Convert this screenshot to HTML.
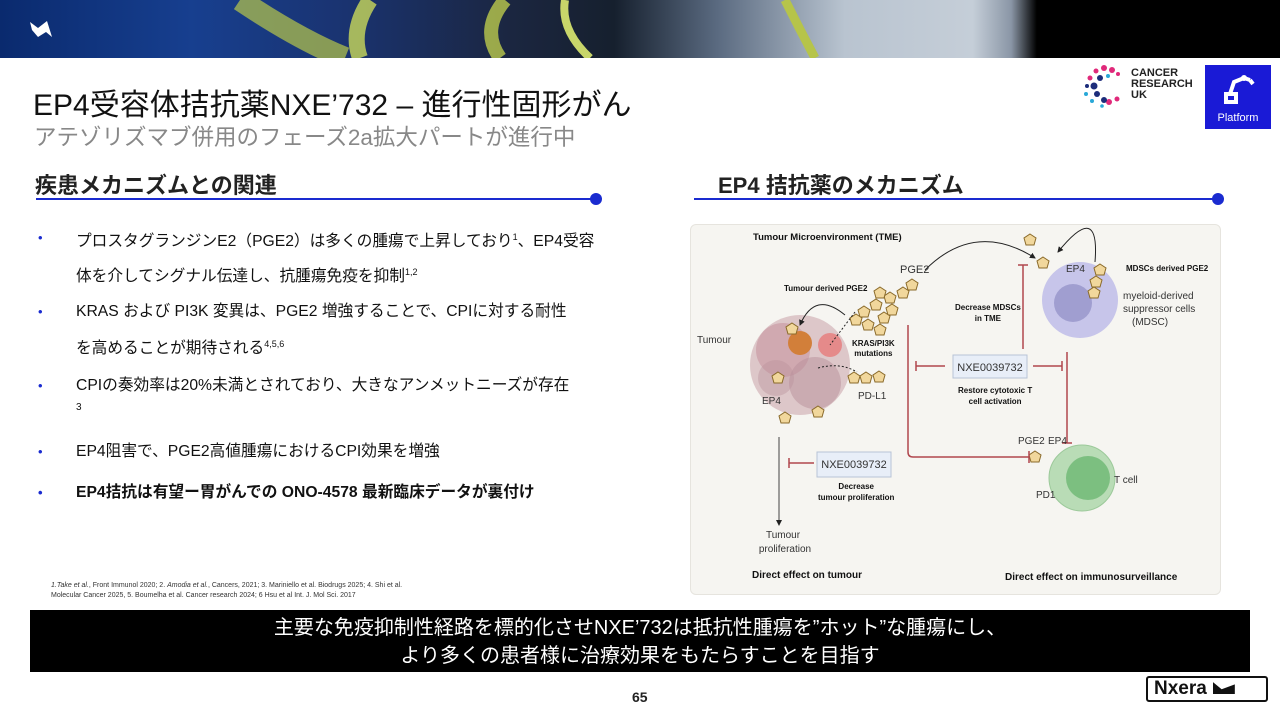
<!DOCTYPE html>
<html><head><meta charset="utf-8"><style>
*{margin:0;padding:0;box-sizing:border-box}
body{width:1280px;height:720px;position:relative;background:#fff;font-family:"Liberation Sans","Noto Sans CJK JP",sans-serif;overflow:hidden;color:#111}
.a{position:absolute;white-space:nowrap}
.ban{position:absolute;left:0;top:0;width:1280px;height:58px;background:linear-gradient(90deg,#0a2a6e 0%,#173f8f 15%,#1a3370 27%,#1b2640 40%,#16202e 48%,#5a6a80 56%,#b9c4d0 66%,#c5ced8 76%,#8a96a6 79%,#000 81%,#000 100%)}
.bul{position:absolute;left:38px;font-size:15.7px;color:#111}
.bul span.d{position:absolute;left:0;color:#1a2bd0;font-size:13px}
.bul div{margin-left:38px;line-height:32px}
sup{font-size:9px}
.dlab{position:absolute;font-size:9px;font-weight:bold;text-align:center;white-space:nowrap;line-height:11px}
</style></head><body>
<div class="ban"></div>
<svg class="a" style="left:0;top:0" width="1280" height="58">
<path d="M240 0 Q300 40 345 58" stroke="#b8c84a" stroke-width="22" fill="none" opacity=".7"/>
<path d="M370 0 Q350 30 360 58" stroke="#c9d95a" stroke-width="16" fill="none" opacity=".8"/>
<path d="M505 0 Q480 30 500 58" stroke="#bccb4c" stroke-width="14" fill="none" opacity=".8"/>
<path d="M565 0 Q560 30 590 58" stroke="#c8d66a" stroke-width="8" fill="none"/>
<path d="M785 0 Q800 30 815 58" stroke="#b6c44a" stroke-width="9" fill="none"/>
<path d="M30 22 L38 28 L47 21 L52 37 L46 32 L38 37 L32 30 Z" fill="#fff"/>
</svg>
<div class="a" style="left:33px;top:80px;font-size:30px;color:#111">EP4受容体拮抗薬NXE’732 – 進行性固形がん</div>
<div class="a" style="left:34px;top:120px;font-size:22.5px;color:#888">アテゾリズマブ併用のフェーズ2a拡大パートが進行中</div>
<svg class="a" style="left:1082px;top:64px" width="46" height="44">
<g fill="#e0297a"><circle cx="22" cy="4" r="3"/><circle cx="30" cy="6" r="3"/><circle cx="14" cy="7" r="2.5"/><circle cx="8" cy="14" r="2.5"/><circle cx="36" cy="10" r="2"/><circle cx="27" cy="38" r="3"/><circle cx="35" cy="35" r="2.5"/></g>
<g fill="#1c2c7a"><circle cx="18" cy="14" r="3"/><circle cx="12" cy="22" r="3.5"/><circle cx="15" cy="30" r="3"/><circle cx="22" cy="36" r="3"/><circle cx="5" cy="22" r="2"/></g>
<g fill="#29a8d8"><circle cx="26" cy="12" r="2"/><circle cx="4" cy="30" r="2"/><circle cx="10" cy="37" r="2"/><circle cx="20" cy="42" r="1.8"/></g>
</svg>
<div class="a" style="left:1131px;top:68px;font-size:11px;font-weight:bold;line-height:11px;color:#222">CANCER<br>RESEARCH<br>UK</div>
<div class="a" style="left:1205px;top:65px;width:66px;height:64px;background:#1a1ad6"></div>
<svg class="a" style="left:1220px;top:72px" width="36" height="34"><path d="M6 30 V22 h10 v8z M10 22 L14 10 L24 6 M24 6 l6 2 M30 8 l3 4" stroke="#fff" stroke-width="4" fill="none"/><circle cx="24" cy="6" r="3" fill="#fff"/></svg>
<div class="a" style="left:1205px;top:112px;width:66px;text-align:center;font-size:11px;color:#fff">Platform</div>
<div class="a" style="left:35px;top:168px;font-size:22px;font-weight:bold;color:#222">疾患メカニズムとの関連</div>
<div class="a" style="left:36px;top:198px;width:560px;height:2px;background:#1a2bd0"></div>
<div class="a" style="left:590px;top:193px;width:12px;height:12px;border-radius:50%;background:#1a2bd0"></div>
<div class="a" style="left:718px;top:168px;font-size:22px;font-weight:bold;color:#222">EP4 拮抗薬のメカニズム</div>
<div class="a" style="left:694px;top:198px;width:522px;height:2px;background:#1a2bd0"></div>
<div class="a" style="left:1212px;top:193px;width:12px;height:12px;border-radius:50%;background:#1a2bd0"></div>
<div class="bul" style="top:222px"><span class="d" style="top:8px">•</span><div style="line-height:31px">プロスタグランジンE2（PGE2）は多くの腫瘍で上昇しており<sup>1</sup>、EP4受容<br>体を介してシグナル伝達し、抗腫瘍免疫を抑制<sup>1,2</sup></div></div>
<div class="bul" style="top:296px"><span class="d" style="top:8px">•</span><div>KRAS および PI3K 変異は、PGE2 増強することで、CPIに対する耐性<br>を高めることが期待される<sup>4,5,6</sup></div></div>
<div class="bul" style="top:370px"><span class="d" style="top:8px">•</span><div>CPIの奏効率は20%未満とされており、大きなアンメットニーズが存在<br><span style="font-size:10px;position:relative;top:-12px">3</span></div></div>
<div class="bul" style="top:436px"><span class="d" style="top:8px">•</span><div>EP4阻害で、PGE2高値腫瘍におけるCPI効果を増強</div></div>
<div class="bul" style="top:477px;font-weight:bold"><span class="d" style="top:8px">•</span><div>EP4拮抗は有望ー胃がんでの ONO-4578 最新臨床データが裏付け</div></div>
<div class="a" style="left:51px;top:581px;font-size:7px;line-height:10px;color:#333"><i>1.Take et al.</i>, Front Immunol 2020; 2. <i>Amodia et al.</i>, Cancers, 2021; 3. Mariniello et al. Biodrugs 2025; 4. Shi et al.<br>Molecular Cancer 2025, 5. Boumelha et al. Cancer research 2024; 6 Hsu et al  Int. J. Mol Sci. 2017</div>
<div class="a" style="left:690px;top:224px;width:531px;height:371px;background:#f6f5f1;border:1px solid #e6e4de;border-radius:6px"></div>
<svg class="a" style="left:0;top:0" width="1280" height="720">
<defs><marker id="ah" markerWidth="6" markerHeight="6" refX="5" refY="3" orient="auto"><path d="M0 0 L6 3 L0 6z" fill="#222"/></marker>
<path id="p" d="M0 -6 L6 -2 L4 5 L-4 5 L-6 -2z" fill="#f1d79c" stroke="#8a6a2a" stroke-width="1"/></defs>
<circle cx="800" cy="365" r="50" fill="#c9a0a8" opacity=".55"/>
<circle cx="783" cy="350" r="27" fill="#c895a0" opacity=".6"/>
<circle cx="815" cy="383" r="26" fill="#b8909a" opacity=".5"/>
<circle cx="776" cy="378" r="18" fill="#b8909a" opacity=".4"/>
<circle cx="800" cy="343" r="12" fill="#d27f3a"/><circle cx="830" cy="345" r="12" fill="#e58a8a"/>
<circle cx="1080" cy="300" r="38" fill="#c7c5ea"/><circle cx="1073" cy="303" r="19" fill="#a09ed0"/>
<circle cx="1082" cy="478" r="33" fill="#b9dcb6" stroke="#9cc99a"/><circle cx="1088" cy="478" r="22" fill="#7cbf80"/>
<g>
<use href="#p" x="1030" y="240"/><use href="#p" x="1043" y="263"/>
<use href="#p" x="1100" y="270"/><use href="#p" x="1096" y="282"/><use href="#p" x="1094" y="293"/>
<use href="#p" x="903" y="293"/><use href="#p" x="912" y="285"/><use href="#p" x="890" y="298"/><use href="#p" x="880" y="293"/><use href="#p" x="892" y="310"/><use href="#p" x="876" y="305"/><use href="#p" x="864" y="312"/><use href="#p" x="884" y="318"/><use href="#p" x="868" y="325"/><use href="#p" x="880" y="330"/><use href="#p" x="856" y="320"/>
<use href="#p" x="792" y="329"/><use href="#p" x="778" y="378"/><use href="#p" x="785" y="418"/><use href="#p" x="818" y="412"/><use href="#p" x="854" y="378"/><use href="#p" x="866" y="378"/><use href="#p" x="879" y="377"/>
<use href="#p" x="1035" y="457"/>
</g>
<path d="M925 270 Q975 220 1035 258" stroke="#222" fill="none" marker-end="url(#ah)"/>
<path d="M1095 262 Q1100 200 1058 252" stroke="#222" fill="none" marker-end="url(#ah)"/>
<path d="M845 315 Q815 290 800 325" stroke="#222" fill="none" marker-end="url(#ah)"/>
<path d="M779 437 V525" stroke="#444" marker-end="url(#ah)"/>
<path d="M855 312 L830 345 M818 368 Q840 362 857 372" stroke="#222" stroke-dasharray="2 2" fill="none"/>
<g stroke="#b0474e" stroke-width="1.5" fill="none">
<path d="M908 325 V452 Q908 457 913 457 H1029 M1029 451 V463"/>
<path d="M1023 349 V265 M1018 265 H1028"/>
<path d="M945 366 H916 M916 361 V371"/>
<path d="M1033 366 H1062 M1062 361 V371"/>
<path d="M1067 352 V443 M1062 443 H1072"/>
<path d="M814 463 H789 M789 458 V468"/>
</g>
<rect x="953" y="355" width="74" height="23" fill="#e8eef8" stroke="#b8c4d6"/>
<rect x="817" y="452" width="74" height="25" fill="#e8eef8" stroke="#b8c4d6"/>
<g font-family="Liberation Sans" fill="#333">
<text x="990" y="371" font-size="11" text-anchor="middle">NXE0039732</text>
<text x="854" y="468" font-size="11" text-anchor="middle">NXE0039732</text>
<text x="900" y="273" font-size="11">PGE2</text>
<text x="1066" y="272" font-size="10">EP4</text>
<text x="1123" y="299" font-size="10">myeloid-derived</text>
<text x="1123" y="312" font-size="10">suppressor cells</text>
<text x="1132" y="325" font-size="10">(MDSC)</text>
<text x="697" y="343" font-size="10">Tumour</text>
<text x="762" y="404" font-size="10">EP4</text>
<text x="858" y="399" font-size="10">PD-L1</text>
<text x="1018" y="444" font-size="10">PGE2</text><text x="1048" y="444" font-size="10">EP4</text>
<text x="1036" y="498" font-size="10">PD1</text>
<text x="1114" y="483" font-size="10">T cell</text>
<text x="783" y="538" font-size="10" text-anchor="middle">Tumour</text>
<text x="785" y="552" font-size="10" text-anchor="middle">proliferation</text>
</g>
</svg>
<div class="dlab" style="left:753px;top:232px;font-size:9.5px">Tumour Microenvironment  (TME)</div>
<div class="dlab" style="left:1126px;top:263px;font-size:8px">MDSCs derived PGE2</div>
<div class="dlab" style="left:784px;top:283px;font-size:8px">Tumour derived PGE2</div>
<div class="dlab" style="left:852px;top:339px;font-size:8px;line-height:10px">KRAS/PI3K<br>mutations</div>
<div class="dlab" style="left:955px;top:302px;font-size:8px">Decrease MDSCs<br>in TME</div>
<div class="dlab" style="left:958px;top:385px;font-size:8px">Restore cytotoxic T<br>cell activation</div>
<div class="dlab" style="left:818px;top:481px;font-size:8px">Decrease<br>tumour proliferation</div>
<div class="dlab" style="left:752px;top:570px;font-size:10px">Direct effect on tumour</div>
<div class="dlab" style="left:1005px;top:572px;font-size:10px">Direct effect on immunosurveillance</div>
<div class="a" style="left:30px;top:610px;width:1220px;height:62px;background:#000;color:#fff;font-size:20px;text-align:center;line-height:28px;padding-top:4px">主要な免疫抑制性経路を標的化させNXE’732は抵抗性腫瘍を”ホット”な腫瘍にし、<br>より多くの患者様に治療効果をもたらすことを目指す</div>
<div class="a" style="left:632px;top:689px;font-size:14px;font-weight:bold;color:#222">65</div>
<div class="a" style="left:1146px;top:676px;width:122px;height:26px;border:2px solid #111;border-radius:3px;font-size:19px;font-weight:bold;padding-left:6px;line-height:22px;color:#111">Nxera<span style="display:inline-block;width:22px;height:12px;background:#111;margin-left:6px;clip-path:polygon(0 0,40% 60%,100% 20%,100% 100%,0 100%)"></span></div>
</body></html>
